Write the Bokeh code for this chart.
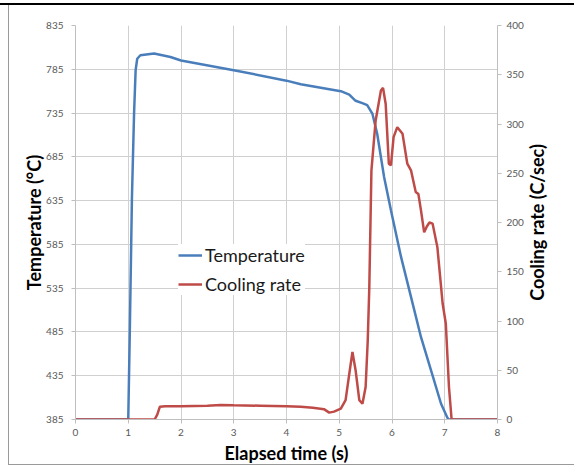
import math
from bokeh.plotting import figure
from bokeh.models import Range1d, LinearAxis, FixedTicker, Legend, LegendItem, InlineStyleSheet, Label
from bokeh.embed import file_html
from bokeh.resources import INLINE

# ---- data ----
time_temp = [0, 1.00, 1.03, 1.07, 1.11, 1.14, 1.17, 1.23, 1.49, 1.80, 2.0, 3.0, 4.0, 4.27,
             5.03, 5.19, 5.31, 5.45, 5.53, 5.63, 5.72, 5.85, 5.98, 6.17, 6.36, 6.55, 6.74,
             6.93, 7.05, 7.08, 8.0]
temperature = [385, 385, 487, 639, 734, 784, 797, 801, 803, 799, 795, 784, 772, 768,
               760, 756, 749, 746, 744, 734, 711, 662, 624, 571, 525, 479, 441,
               403, 387, 385, 385]

time_rate = [0, 1.50, 1.55, 1.60, 1.70, 2.0, 2.5, 2.75, 3.0, 3.5, 4.0, 4.27, 4.5, 4.71, 4.81,
             4.9, 5.03, 5.12, 5.20, 5.25, 5.31, 5.38, 5.44, 5.50, 5.54, 5.57, 5.61, 5.69, 5.79,
             5.83, 5.88, 5.94, 5.98, 6.03, 6.10, 6.20, 6.29, 6.36, 6.45, 6.50, 6.55, 6.61, 6.66,
             6.71, 6.77, 6.86, 6.96, 7.02, 7.08, 7.13, 8.0]
cooling_rate = [0, 0, 5, 13, 13.5, 13.5, 14, 14.8, 14.5, 14, 13.5, 13, 12, 10.5, 7,
                8, 11, 19.6, 50, 68.6, 50, 19.6, 16, 33, 80, 134.5, 253, 303.6, 334,
                336.7, 320.5, 259.7, 258, 286.7, 296.8, 290, 259.7, 253, 231, 229, 212, 190, 196,
                200, 198.8, 175, 117.7, 97.4, 33, 0, 0]

x_ticks = [0, 1, 2, 3, 4, 5, 6, 7, 8]
temp_ticks = [385, 435, 485, 535, 585, 635, 685, 735, 785, 835]
rate_ticks = [0, 50, 100, 150, 200, 250, 300, 350, 400]

x_title = "Elapsed time (s)"
left_title = "Temperature (°C)"
right_title = "Cooling rate (C/sec)"

FONT = "Lato"
TICK_COLOR = "#595959"
GRID = "#d0d0d0"
AXIS = "#bfbfbf"

p = figure(width=574, height=466, output_backend="svg", toolbar_location=None,
           x_range=Range1d(0, 8), y_range=Range1d(385, 835),
           min_border_left=75, min_border_right=77, min_border_top=25, min_border_bottom=47)
p.outline_line_color = None
p.background_fill_color = "white"
p.border_fill_color = "white"

frame_css = InlineStyleSheet(css="""
:host::after { content: ''; position: absolute; left: 0; top: 3px; width: 100%; height: 2px;
               background: #000; z-index: 10; pointer-events: none; }
:host::before { content: ''; position: absolute; left: 8px; top: 5px; right: 0; height: 459px;
                border-left: 1px solid #9a9a9a; border-bottom: 1px solid #9a9a9a;
                z-index: 10; pointer-events: none; }
""")
p.stylesheets = [frame_css]

p.extra_y_ranges = {"rate": Range1d(0, 400)}
raxis = LinearAxis(y_range_name="rate")
p.add_layout(raxis, "right")

p.xaxis.axis_label = x_title
p.yaxis[0].axis_label = left_title

p.xaxis.ticker = FixedTicker(ticks=x_ticks)
p.yaxis[0].ticker = FixedTicker(ticks=temp_ticks)
raxis.ticker = FixedTicker(ticks=rate_ticks)

for ax in [p.xaxis[0], p.yaxis[0], raxis]:
    ax.major_label_text_font = FONT
    ax.major_label_text_font_size = "10px"
    ax.major_label_text_color = TICK_COLOR
    ax.axis_label_text_font = FONT
    ax.axis_label_text_font_size = "18px"
    ax.axis_label_text_font_style = "bold"
    ax.axis_label_text_color = "#000000"
    ax.axis_line_color = AXIS
    ax.major_tick_line_color = AXIS
    ax.major_tick_in = 0
    ax.major_tick_out = 4
    ax.minor_tick_line_color = None

p.xaxis.major_label_standoff = 5
p.xaxis.axis_label_standoff = 3
p.yaxis[0].major_label_standoff = 8
p.yaxis[0].axis_label_standoff = -2
raxis.major_label_standoff = 5

# right-hand axis title in its own side panel, reading bottom to top
rlabel = Label(x=10, y=197, x_units="screen", y_units="screen", text=right_title,
               angle=math.pi / 2, text_align="center", text_baseline="middle",
               text_font=FONT, text_font_size="18px", text_font_style="bold",
               text_color="#000000")
p.add_layout(rlabel, "right")

p.xgrid.ticker = FixedTicker(ticks=x_ticks)
p.ygrid.ticker = FixedTicker(ticks=temp_ticks)
p.xgrid.grid_line_color = GRID
p.ygrid.grid_line_color = GRID

r_temp = p.line(time_temp, temperature, line_color="#4a7ebb", line_width=2.5)
r_rate = p.line(time_rate, cooling_rate, line_color="#be4b48", line_width=2.5, y_range_name="rate")

legend = Legend(items=[LegendItem(label="Temperature", renderers=[r_temp]),
                       LegendItem(label="Cooling rate", renderers=[r_rate])],
                location=(103, 124))
legend.background_fill_color = "white"
legend.background_fill_alpha = 1.0
legend.border_line_color = None
legend.label_text_font = FONT
legend.label_text_font_size = "18px"
legend.label_text_color = "#1a1a1a"
legend.glyph_width = 24
legend.label_standoff = 3
legend.spacing = 7
legend.padding = 10
legend.margin = 0
p.add_layout(legend, "center")

open("out.html", "w").write(file_html(p, INLINE))
